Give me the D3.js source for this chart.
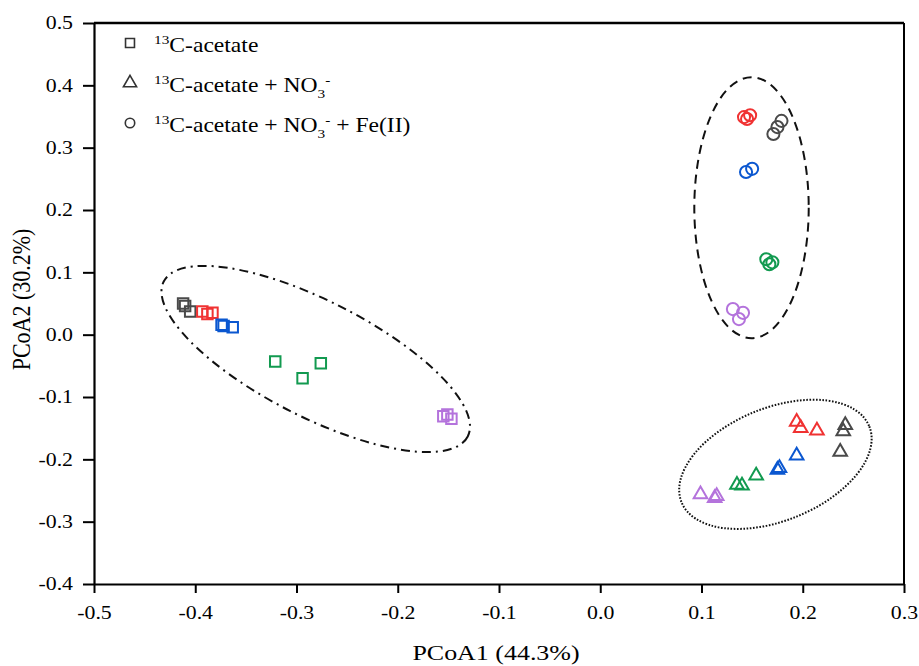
<!DOCTYPE html>
<html>
<head>
<meta charset="utf-8">
<script src="https://cdn.jsdelivr.net/npm/d3@7"></script>
<style>
  body { margin: 0; background: #fff; }
  text { font-family: "Liberation Serif", "Times New Roman", serif; fill: #000; }
</style>
</head>
<body>
<div id="chart"></div>
<script>
// stage groups and their colours
var groups = ["gray", "red", "blue", "green", "purple"];
var groupColors = ["#4a4a4a", "#f03232", "#0b57d0", "#129a50", "#b473dc"];

// 13C-acetate (squares): [PCoA1, PCoA2, group]
var acetate = [
  [-0.412, 0.050, "gray"], [-0.410, 0.046, "gray"], [-0.405, 0.037, "gray"],
  [-0.393, 0.037, "red"], [-0.388, 0.033, "red"], [-0.383, 0.035, "red"],
  [-0.374, 0.016, "blue"], [-0.372, 0.014, "blue"], [-0.363, 0.012, "blue"],
  [-0.321, -0.043, "green"], [-0.276, -0.046, "green"], [-0.294, -0.070, "green"],
  [-0.155, -0.131, "purple"], [-0.151, -0.128, "purple"], [-0.147, -0.135, "purple"]
];

// 13C-acetate + NO3- (triangles)
var nitrate = [
  [0.194, -0.140, "red"], [0.198, -0.150, "red"], [0.214, -0.154, "red"],
  [0.242, -0.145, "gray"], [0.240, -0.155, "gray"], [0.237, -0.188, "gray"],
  [0.194, -0.194, "blue"], [0.175, -0.217, "blue"], [0.177, -0.214, "blue"],
  [0.154, -0.226, "green"], [0.135, -0.241, "green"], [0.140, -0.242, "green"],
  [0.099, -0.256, "purple"], [0.113, -0.262, "purple"], [0.115, -0.259, "purple"]
];

// 13C-acetate + NO3- + Fe(II) (circles)
var nitrateFe = [
  [0.142, 0.349, "red"], [0.148, 0.352, "red"], [0.145, 0.346, "red"],
  [0.171, 0.322, "gray"], [0.175, 0.333, "gray"], [0.179, 0.343, "gray"],
  [0.144, 0.261, "blue"], [0.150, 0.266, "blue"],
  [0.164, 0.121, "green"], [0.167, 0.113, "green"], [0.170, 0.116, "green"],
  [0.131, 0.041, "purple"], [0.141, 0.035, "purple"], [0.137, 0.025, "purple"]
];

// cluster ellipses: [centre PCoA1, centre PCoA2, semi-axis (PCoA1 units), semi-axis (PCoA2 units), angle, dash]
var clusters = [
  [-0.281, -0.039, 0.1685, 0.093, 27, "9,5,2,5"],
  [0.1494, 0.2037, 0.0565, 0.2093, 0, "9,6"],
  [0.173, -0.208, 0.100, 0.0905, -22, "1.6,1.6"]
];

var xTicks = [-0.5, -0.4, -0.3, -0.2, -0.1, 0.0, 0.1, 0.2, 0.3];
var yTicks = [0.5, 0.4, 0.3, 0.2, 0.1, 0.0, -0.1, -0.2, -0.3, -0.4];

var sx = 1.18; // the text in the figure is a bit wider than plain Times
var fmt = function(d) { return d3.format(".1f")(d).replace("\u2212", "-"); };

var margin = {top: 23, right: 15, bottom: 82, left: 94},
    width = 919 - margin.left - margin.right,
    height = 666 - margin.top - margin.bottom;

var svg = d3.select("#chart")
  .append("svg")
    .attr("width", 919)
    .attr("height", 666)
  .append("g")
    .attr("transform", "translate(" + margin.left + "," + margin.top + ")");

var x = d3.scaleLinear().domain([-0.5, 0.3]).range([0, width]);
var y = d3.scaleLinear().domain([-0.4, 0.5]).range([height, 0]);
var color = d3.scaleOrdinal().domain(groups).range(groupColors);

// frame top and right
svg.append("line")
  .attr("x1", 0).attr("x2", width).attr("y1", 0).attr("y2", 0)
  .attr("stroke", "#000").attr("stroke-width", 2.5);
svg.append("line")
  .attr("x1", width).attr("x2", width).attr("y1", 0).attr("y2", height)
  .attr("stroke", "#000").attr("stroke-width", 2);

// X axis
var xAxis = svg.append("g")
  .attr("transform", "translate(0," + height + ")")
  .call(d3.axisBottom(x).tickValues(xTicks).tickFormat(fmt)
        .tickSize(9).tickPadding(13).tickSizeOuter(0));
xAxis.selectAll("text")
  .style("font-size", "18.5px")
  .attr("transform", "scale(" + sx + ",1)");

// Y axis
var yAxis = svg.append("g")
  .call(d3.axisLeft(y).tickValues(yTicks).tickFormat(fmt)
        .tickSize(11).tickPadding(10).tickSizeOuter(0));
yAxis.selectAll("text")
  .style("font-size", "18.5px")
  .attr("x", -21 / sx)
  .attr("transform", "scale(" + sx + ",1)");

svg.selectAll(".domain, .tick line")
  .attr("stroke", "#000").attr("stroke-width", 2);
svg.selectAll(".domain").attr("stroke-width", 2.2);

// axis titles
svg.append("text")
  .attr("text-anchor", "middle")
  .attr("transform", "translate(" + (width / 2 - 3) + "," + (height + 76) + ") scale(" + sx + ",1)")
  .style("font-size", "22px")
  .text("PCoA1 (44.3%)");

svg.append("text")
  .attr("text-anchor", "middle")
  .attr("transform", "translate(" + (-64) + "," + (height / 2 - 4) + ") scale(" + sx + ",1) rotate(-90)")
  .style("font-size", "22px")
  .text("PCoA2 (30.2%)");

// cluster ellipses
svg.append("g")
  .selectAll("ellipse")
  .data(clusters)
  .enter()
  .append("ellipse")
    .attr("cx", function(d) { return x(d[0]); })
    .attr("cy", function(d) { return y(d[1]); })
    .attr("rx", function(d) { return x(d[2]) - x(0); })
    .attr("ry", function(d) { return y(0) - y(d[3]); })
    .attr("transform", function(d) { return "rotate(" + d[4] + "," + x(d[0]) + "," + y(d[1]) + ")"; })
    .attr("fill", "none")
    .attr("stroke", "#111")
    .attr("stroke-width", 2)
    .attr("stroke-dasharray", function(d) { return d[5]; });

// point symbols
var square = d3.symbol().type(d3.symbolSquare).size(110);
var triangle = d3.symbol().type(d3.symbolTriangle).size(80);
var circle = d3.symbol().type(d3.symbolCircle).size(115);

function addPoints(data, sym) {
  svg.append("g")
    .selectAll("path")
    .data(data)
    .enter()
    .append("path")
      .attr("d", sym)
      .attr("transform", function(d) { return "translate(" + x(d[0]) + "," + y(d[1]) + ")"; })
      .attr("fill", "none")
      .attr("stroke", function(d) { return color(d[2]); })
      .attr("stroke-width", 2);
}
addPoints(acetate, square);
addPoints(nitrate, triangle);
addPoints(nitrateFe, circle);

// Legend
var legendSyms = [
  d3.symbol().type(d3.symbolSquare).size(80),
  d3.symbol().type(d3.symbolTriangle).size(75),
  d3.symbol().type(d3.symbolCircle).size(70)
];
var legendParts = [
  [["13", "sup"], ["C-acetate", "base"]],
  [["13", "sup"], ["C-acetate + NO", "base"], ["3", "sub"], ["-", "sup2"]],
  [["13", "sup"], ["C-acetate + NO", "base"], ["3", "sub"], ["-", "sup2"], [" + Fe(II)", "base"]]
];
var shift = {sup: -8, base: 0, sub: 6, sup2: -8};

var legend = svg.append("g").attr("transform", "translate(" + (130 - margin.left) + "," + (43 - margin.top) + ")");
legendSyms.forEach(function(sym, i) {
  legend.append("path")
    .attr("d", sym)
    .attr("transform", "translate(0," + i * 40 + ")")
    .attr("fill", "none")
    .attr("stroke", "#333")
    .attr("stroke-width", 1.6);

  var t = legend.append("text")
    .attr("transform", "translate(24," + (i * 40 + 9) + ") scale(" + sx + ",1)")
    .style("font-size", "20px");
  var level = 0;
  legendParts[i].forEach(function(p) {
    var s = t.append("tspan").text(p[0]).attr("dy", shift[p[1]] - level);
    level = shift[p[1]];
    if (p[1] !== "base") s.style("font-size", "13px");
  });
});
</script>
</body>
</html>
